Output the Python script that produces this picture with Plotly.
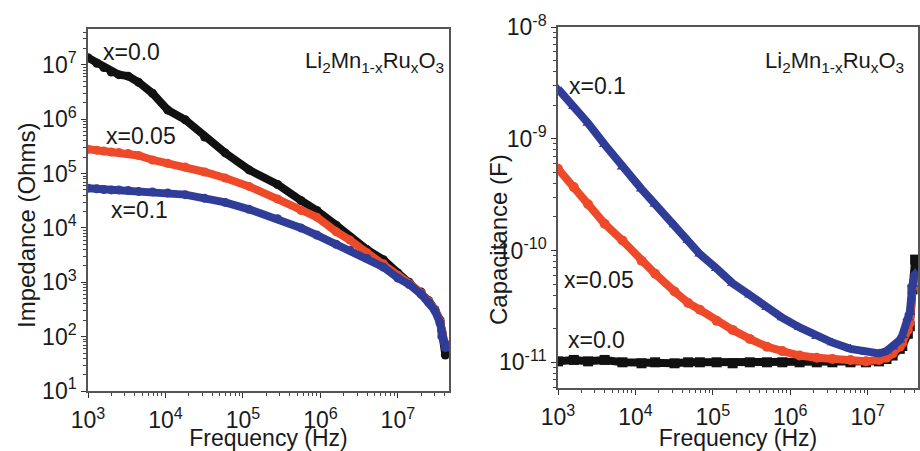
import plotly.graph_objects as go

# ---------------- data ----------------
# Left panel: impedance vs frequency
freq_z = [1.0e3, 1.3e3, 1.6e3, 2.0e3, 2.5e3, 3.3e3, 4.5e3, 6.8e3, 1.07e4, 1.8e4,
          3.2e4, 5.9e4, 1.2e5, 2.8e5, 5.6e5, 9.0e5, 1.6e6, 2.4e6, 4.0e6, 6.5e6,
          1.0e7, 1.4e7, 2.0e7, 2.5e7, 3.0e7, 3.5e7, 3.7e7, 4.0e7, 4.1e7]
z_x00 = [1.35e7, 1.07e7, 8.9e6, 7.4e6, 6.6e6, 6.2e6, 4.8e6, 3.0e6, 1.48e6, 9.8e5,
         4.7e5, 2.4e5, 1.17e5, 6.3e4, 3.2e4, 2.1e4, 1.12e4, 6.8e3, 4.0e3, 2.6e3,
         1.48e3, 1.0e3, 660, 457, 316, 200, 126, 71, 46]
z_x005 = [2.8e5, 2.7e5, 2.6e5, 2.5e5, 2.45e5, 2.35e5, 2.15e5, 1.78e5, 1.55e5, 1.32e5,
          1.07e5, 8.3e4, 5.8e4, 3.4e4, 2.1e4, 1.58e4, 8.5e3, 6.0e3, 3.5e3, 2.2e3,
          1.35e3, 955, 630, 447, 316, 190, 112, 79, 66]
z_x01 = [5.4e4, 5.25e4, 5.1e4, 5.0e4, 5.0e4, 4.9e4, 4.7e4, 4.6e4, 4.4e4, 4.1e4,
         3.5e4, 2.95e4, 2.2e4, 1.48e4, 1.0e4, 7.4e3, 5.0e3, 3.9e3, 2.75e3, 1.9e3,
         1.2e3, 912, 603, 427, 302, 178, 100, 76, 63]

# Right panel: capacitance vs frequency
freq_c = [1.0e3, 1.6e3, 2.45e3, 4.0e3, 6.8e3, 1.2e4, 1.8e4, 3.2e4, 4.8e4, 6.8e4,
          1.12e5, 1.8e5, 3.0e5, 5.0e5, 7.9e5, 1.32e6, 2.2e6, 3.5e6, 6.0e6, 9.5e6,
          1.4e7, 1.75e7, 2.1e7, 2.6e7, 2.8e7, 3.3e7, 3.5e7, 3.8e7, 4.1e7]
c_x00 = [1.02e-11, 1.05e-11, 1.02e-11, 1.05e-11, 1.0e-11, 0.98e-11, 1.0e-11, 0.98e-11, 1.0e-11, 1.0e-11,
         1.0e-11, 0.98e-11, 1.0e-11, 1.0e-11, 1.0e-11, 1.0e-11, 1.0e-11, 1.0e-11, 1.0e-11, 1.0e-11,
         1.02e-11, 1.07e-11, 1.15e-11, 1.32e-11, 1.4e-11, 1.8e-11, 2.1e-11, 4.5e-11, 8.3e-11]
c_x005 = [5.4e-10, 3.7e-10, 2.6e-10, 1.74e-10, 1.23e-10, 8.1e-11, 6.2e-11, 4.3e-11, 3.4e-11, 2.95e-11,
          2.35e-11, 1.95e-11, 1.62e-11, 1.38e-11, 1.26e-11, 1.15e-11, 1.1e-11, 1.07e-11, 1.05e-11, 1.02e-11,
          1.05e-11, 1.1e-11, 1.2e-11, 1.38e-11, 1.5e-11, 1.95e-11, 2.25e-11, 4.7e-11, 5.6e-11]
c_x01 = [2.8e-9, 1.95e-9, 1.38e-9, 8.9e-10, 5.6e-10, 3.55e-10, 2.6e-10, 1.7e-10, 1.23e-10, 9.3e-11,
         6.9e-11, 5.1e-11, 4.0e-11, 3.1e-11, 2.5e-11, 2.05e-11, 1.7e-11, 1.5e-11, 1.32e-11, 1.23e-11,
         1.2e-11, 1.26e-11, 1.38e-11, 1.58e-11, 1.74e-11, 2.5e-11, 2.8e-11, 5.0e-11, 6.3e-11]

labels = ["x=0.0", "x=0.05", "x=0.1"]
formula = "Li<sub>2</sub>Mn<sub>1-x</sub>Ru<sub>x</sub>O<sub>3</sub>"

# tick values / labels
freq_ticks = [1e3, 1e4, 1e5, 1e6, 1e7]
freq_ticktext = ["10<sup>3</sup>", "10<sup>4</sup>", "10<sup>5</sup>", "10<sup>6</sup>", "10<sup>7</sup>"]
z_ticks = [1e1, 1e2, 1e3, 1e4, 1e5, 1e6, 1e7]
z_ticktext = ["10<sup>1</sup>", "10<sup>2</sup>", "10<sup>3</sup>", "10<sup>4</sup>",
              "10<sup>5</sup>", "10<sup>6</sup>", "10<sup>7</sup>"]
c_ticks = [1e-11, 1e-10, 1e-9, 1e-8]
c_ticktext = ["10<sup>-11</sup>", "10<sup>-10</sup>", "10<sup>-9</sup>", "10<sup>-8</sup>"]


def minor_vals(decades):
    # 2..9 x 10^n minor tick positions for log axes
    return [m * 10.0 ** d for d in decades for m in range(2, 10)]


# ---------------- style ----------------
W, H = 920, 451
FONT = "Arial, Liberation Sans, sans-serif"
BLACK, RED, BLUE = "#111111", "#EE4A2A", "#2F3D98"
TXT = "#1a1a1a"


def px(x):
    return x / W


def py(y):
    return 1 - y / H


fig = go.Figure()

for yv, col in [(z_x00, BLACK), (z_x005, RED), (z_x01, BLUE)]:
    fig.add_trace(go.Scatter(x=freq_z, y=yv, mode="lines+markers",
                             line=dict(color=col, width=8),
                             marker=dict(symbol="circle", size=9, color=col),
                             xaxis="x", yaxis="y", showlegend=False))

for yv, col, sym in [(c_x00, BLACK, "square"), (c_x005, RED, "circle"),
                     (c_x01, BLUE, "triangle-up")]:
    fig.add_trace(go.Scatter(x=freq_c, y=yv, mode="lines+markers",
                             line=dict(color=col, width=8),
                             marker=dict(symbol=sym, size=10, color=col),
                             xaxis="x2", yaxis="y2", showlegend=False))

axis_common = dict(
    type="log", tickmode="array", automargin=False,
    showline=True, mirror=True, linecolor="#555555", linewidth=1.5,
    ticks="outside", ticklen=5, tickwidth=1.3, tickcolor="#333333",
    showgrid=False, zeroline=False,
    tickfont=dict(family=FONT, size=23, color=TXT),
)


def minor(decades):
    return dict(tickmode="array", tickvals=minor_vals(decades), ticks="outside",
                ticklen=3, tickwidth=1, tickcolor="#444444", showgrid=False)


xtitle = dict(text="Frequency (Hz)", font=dict(family=FONT, size=23, color=TXT), standoff=1)

fig.update_layout(
    width=W, height=H,
    margin=dict(l=0, r=0, t=0, b=0),
    paper_bgcolor="white", plot_bgcolor="white",
    font=dict(family=FONT, color=TXT),
    showlegend=False,
    xaxis=dict(axis_common, domain=[px(88), px(449)], range=[3, 7.66], anchor="y",
               tickvals=freq_ticks, ticktext=freq_ticktext, title=xtitle,
               ticklabelstandoff=3, minor=minor(range(3, 8))),
    yaxis=dict(axis_common, domain=[py(391), py(29)], range=[1, 7.66], anchor="x",
               tickvals=z_ticks, ticktext=z_ticktext, minor=minor(range(1, 8))),
    xaxis2=dict(axis_common, domain=[px(558), px(918)], range=[3, 7.65], anchor="y2",
                tickvals=freq_ticks, ticktext=freq_ticktext, title=xtitle,
                ticklabelstandoff=3, minor=minor(range(3, 8))),
    yaxis2=dict(axis_common, domain=[py(388), py(27)], range=[-11.23, -7.999], anchor="x2",
                tickvals=c_ticks, ticktext=c_ticktext, minor=minor(range(-12, -8))),
)

ann = [
    # y-axis titles
    dict(text="Impedance (Ohms)", x=px(26), y=py(226), textangle=-90, size=24),
    dict(text="Capacitance (F)", x=px(499), y=py(240), textangle=-90, size=24),
    # left panel labels
    dict(text=labels[0], x=px(101), y=py(52), xanchor="left", size=23),
    dict(text=labels[1], x=px(104), y=py(136), xanchor="left", size=23),
    dict(text=labels[2], x=px(109), y=py(210), xanchor="left", size=23),
    dict(text=formula, x=px(446), y=py(62), xanchor="right", size=22),
    # right panel labels
    dict(text=labels[2], x=px(567), y=py(86), xanchor="left", size=23),
    dict(text=labels[1], x=px(562), y=py(280), xanchor="left", size=23),
    dict(text=labels[0], x=px(566), y=py(340), xanchor="left", size=23),
    dict(text=formula, x=px(906), y=py(62), xanchor="right", size=22),
]
for a in ann:
    fig.add_annotation(
        text=a["text"], x=a["x"], y=a["y"], xref="paper", yref="paper",
        xanchor=a.get("xanchor", "center"), yanchor="middle",
        textangle=a.get("textangle", 0), showarrow=False,
        font=dict(family=FONT, size=a["size"], color=TXT),
    )

fig.write_html("out.html", config={"displayModeBar": False},
               post_script="document.body.style.margin='0px';document.body.style.overflow='hidden';")
